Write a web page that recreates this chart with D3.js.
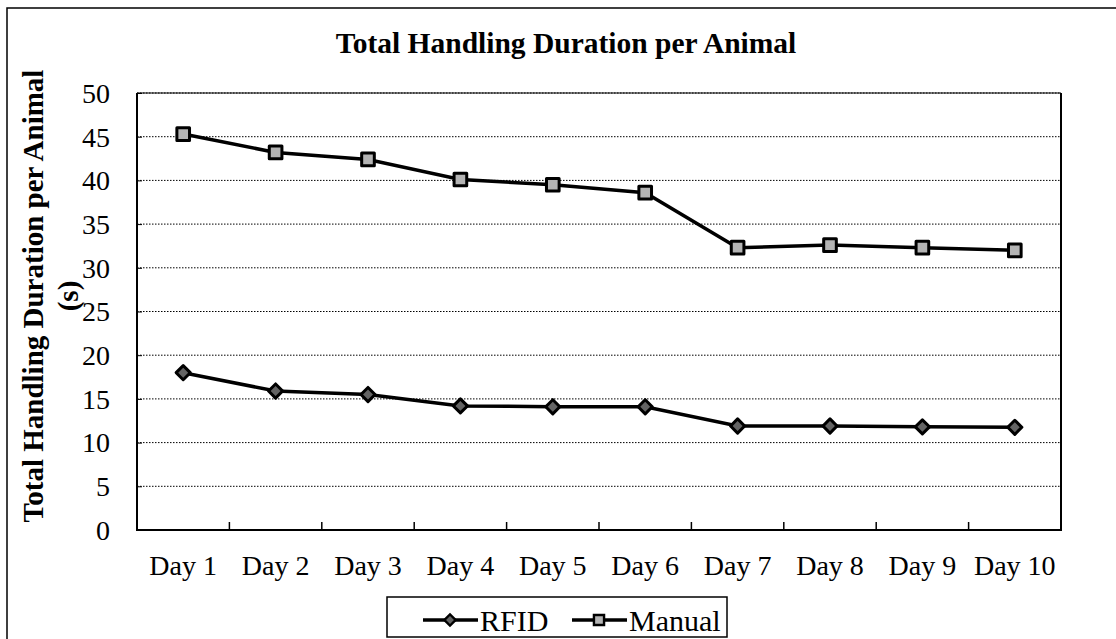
<!DOCTYPE html>
<meta charset="utf-8">
<style>
body { margin: 0; background: #fff; }
svg text { font-family: "Liberation Serif", "Times New Roman", serif; fill: #000; }
.grid line { stroke: #000; stroke-width: 1; stroke-dasharray: 1.5,1.5; }
.series { fill: none; stroke: #000; stroke-width: 3.5px; }
</style>
<body>
<svg width="1116" height="639"></svg>
<script src="https://d3js.org/d3.v7.min.js"></script>
<script>
var days = ["Day 1", "Day 2", "Day 3", "Day 4", "Day 5", "Day 6", "Day 7", "Day 8", "Day 9", "Day 10"];
var rfid = [18.0, 15.9, 15.5, 14.2, 14.1, 14.1, 11.9, 11.9, 11.8, 11.75];
var manual = [45.3, 43.2, 42.4, 40.1, 39.5, 38.6, 32.3, 32.6, 32.3, 32.0];
var yTicks = [0, 5, 10, 15, 20, 25, 30, 35, 40, 45, 50];

var svg = d3.select("svg"),
    margin = {top: 93, right: 55, bottom: 109, left: 137},
    width = 1116 - margin.left - margin.right,
    height = 639 - margin.top - margin.bottom;

// outer frame (right/bottom edges run off the picture)
svg.append("rect")
    .attr("x", 7).attr("y", 8)
    .attr("width", 1200).attr("height", 700)
    .attr("fill", "none").attr("stroke", "#000").attr("stroke-width", 1.5);

svg.append("text")
    .attr("x", 566).attr("y", 53)
    .attr("text-anchor", "middle")
    .style("font-size", "29.5px").style("font-weight", "bold")
    .text("Total Handling Duration per Animal");

var g = svg.append("g").attr("transform", "translate(" + margin.left + "," + margin.top + ")");

var x = d3.scaleBand().domain(days).range([0, width]).padding(0),
    y = d3.scaleLinear().domain([0, 50]).range([height, 0]);

// dotted grid
g.append("g").attr("class", "grid")
  .selectAll("line")
  .data(yTicks.filter(function(d) { return d > 0; }))
  .enter().append("line")
    .attr("x1", 0).attr("x2", width)
    .attr("y1", function(d) { return y(d); })
    .attr("y2", function(d) { return y(d); });

// y axis: ticks point inward
var yAxis = g.append("g")
    .call(d3.axisRight(y).tickValues(yTicks).tickSize(5).tickFormat(""));
yAxis.select(".domain").remove();
yAxis.selectAll("line").attr("stroke", "#000").attr("stroke-width", 1);

g.selectAll(".ylab")
  .data(yTicks)
  .enter().append("text")
    .attr("class", "ylab")
    .attr("x", -27)
    .attr("y", function(d) { return y(d); })
    .attr("dy", "0.35em")
    .attr("text-anchor", "end")
    .style("font-size", "28px")
    .text(function(d) { return d; });

// x axis: category boundary ticks pointing up
var bounds = days.slice(1).map(function(d) { return x(d); });
g.selectAll(".xtick")
  .data(bounds)
  .enter().append("line")
    .attr("x1", function(d) { return d; }).attr("x2", function(d) { return d; })
    .attr("y1", height).attr("y2", height - 8)
    .attr("stroke", "#000").attr("stroke-width", 1.5);

g.selectAll(".xlab")
  .data(days)
  .enter().append("text")
    .attr("x", function(d) { return x(d) + x.bandwidth() / 2; })
    .attr("y", height + 45)
    .attr("text-anchor", "middle")
    .style("font-size", "28px")
    .text(function(d) { return d; });

// frame of plot area
g.append("path")
    .attr("d", "M0,0V" + height + "H" + width + "V0")
    .attr("fill", "none").attr("stroke", "#000").attr("stroke-width", 2);
g.append("line")
    .attr("x1", 0).attr("x2", width).attr("y1", 0).attr("y2", 0)
    .attr("stroke", "#000").attr("stroke-width", 1);

var line = d3.line()
    .x(function(d, i) { return x(days[i]) + x.bandwidth() / 2; })
    .y(function(d) { return y(d); });

var square = d3.symbol().type(d3.symbolSquare).size(160),
    diamond = d3.symbol().type(d3.symbolSquare).size(100);

function drawSeries(values, sym, fill, rot) {
  g.append("path").attr("class", "series").attr("d", line(values));
  g.selectAll(null)
    .data(values)
    .enter().append("path")
      .attr("d", sym)
      .attr("transform", function(d, i) {
        return "translate(" + (x(days[i]) + x.bandwidth() / 2) + "," + y(d) + ") rotate(" + rot + ")";
      })
      .attr("fill", fill)
      .attr("stroke", "#000")
      .attr("stroke-width", 3)
      .attr("stroke-linejoin", "round");
}

drawSeries(rfid, diamond, "#646464", 45);
drawSeries(manual, square, "#b4b4b4", 0);

// y axis title
var yt = svg.append("text")
    .attr("transform", "translate(0,296) rotate(-90)")
    .attr("text-anchor", "middle")
    .style("font-size", "29px").style("font-weight", "bold");
yt.append("tspan").attr("x", 0).attr("y", 43).text("Total Handling Duration per Animal");
yt.append("tspan").attr("x", 0).attr("y", 78).text("(s)");

// legend
var legend = [
  {name: "RFID", sym: diamond, fill: "#646464", rot: 45, x0: 423},
  {name: "Manual", sym: square, fill: "#b4b4b4", rot: 0, x0: 572}
];
svg.append("rect")
    .attr("x", 387).attr("y", 597).attr("width", 340).attr("height", 40)
    .attr("fill", "#fff").attr("stroke", "#000").attr("stroke-width", 1.5);

var li = svg.selectAll(".leg")
  .data(legend)
  .enter().append("g")
    .attr("transform", function(d) { return "translate(" + d.x0 + ",620)"; });
li.append("line")
    .attr("x1", 0).attr("x2", 55).attr("y1", 0).attr("y2", 0)
    .attr("stroke", "#000").attr("stroke-width", 3.5);
li.append("path")
    .attr("d", function(d) { return d.sym(); })
    .attr("transform", function(d) { return "translate(27,0) rotate(" + d.rot + ") scale(0.8)"; })
    .attr("fill", function(d) { return d.fill; })
    .attr("stroke", "#000").attr("stroke-width", 3);
li.append("text")
    .attr("x", 57).attr("y", 11)
    .style("font-size", "30px")
    .text(function(d) { return d.name; });
</script>
</body>
